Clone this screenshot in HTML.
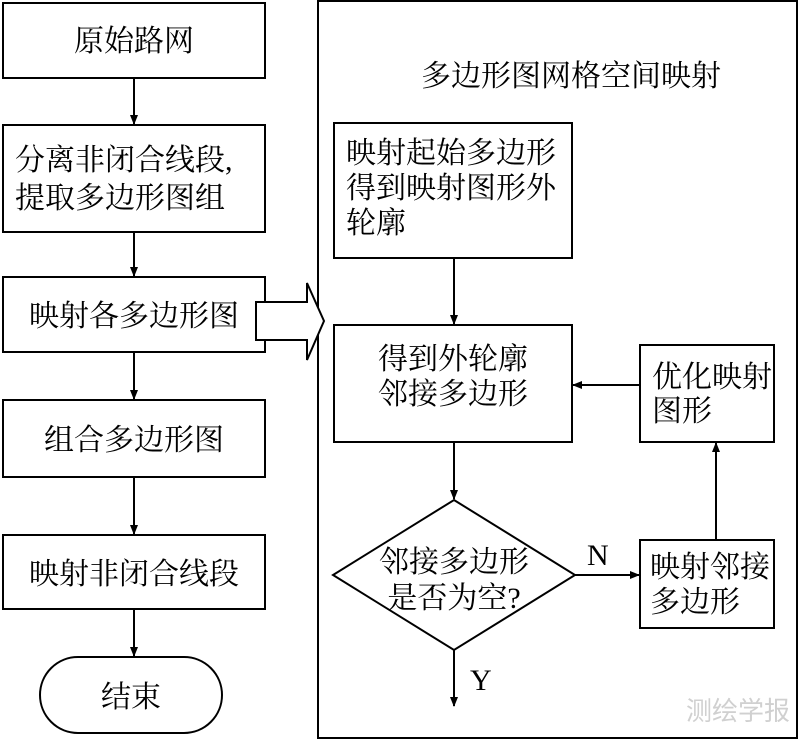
<!DOCTYPE html>
<html><head><meta charset="utf-8"><style>
body{margin:0;background:#fff}
svg text{font-family:"Liberation Serif","Noto Serif CJK SC",serif;font-size:30px;fill:#000}
</style></head><body>
<svg width="800" height="741" viewBox="0 0 800 741" xmlns="http://www.w3.org/2000/svg">
<defs><marker id="a" markerWidth="10" markerHeight="10" refX="9" refY="5" orient="auto" markerUnits="userSpaceOnUse"><path d="M0,1 L10,5 L0,9 z" fill="#000"/></marker></defs>
<g fill="none" stroke="#000" stroke-width="2">
<rect x="3" y="3" width="262" height="75"/>
<rect x="3" y="125" width="262" height="107"/>
<rect x="3" y="277" width="262" height="75"/>
<rect x="3" y="400" width="262" height="77"/>
<rect x="3" y="535" width="262" height="74"/>
<rect x="40" y="657" width="182" height="76" rx="38"/>
<rect x="318" y="1" width="479" height="737"/>
<rect x="334" y="123" width="238" height="135"/>
<rect x="334" y="325" width="238" height="117"/>
<rect x="640" y="345" width="134" height="97"/>
<rect x="640" y="540" width="134" height="88"/>
<path d="M454,500 L575,575 L454,650 L333,575 Z"/>
<path d="M256,302 L307,302 L307,283 L324,321 L307,360 L307,340 L256,340 Z" fill="#fff"/>
<g marker-end="url(#a)">
<line x1="134" y1="78" x2="134" y2="124"/>
<line x1="134" y1="232" x2="134" y2="276"/>
<line x1="134" y1="352" x2="134" y2="399"/>
<line x1="134" y1="477" x2="134" y2="534"/>
<line x1="134" y1="609" x2="134" y2="656"/>
<line x1="454" y1="258" x2="454" y2="324"/>
<line x1="454" y1="442" x2="454" y2="499"/>
<line x1="454" y1="650" x2="454" y2="706"/>
<line x1="575" y1="575" x2="639" y2="575"/>
<line x1="716" y1="540" x2="716" y2="443"/>
<line x1="640" y1="385" x2="573" y2="385"/>
</g></g>
<text x="134" y="51" text-anchor="middle">原始路网</text>
<text x="15" y="170">分离非闭合线段,</text>
<text x="15" y="208">提取多边形图组</text>
<text x="134" y="326" text-anchor="middle">映射各多边形图</text>
<text x="134" y="450" text-anchor="middle">组合多边形图</text>
<text x="134" y="584" text-anchor="middle">映射非闭合线段</text>
<text x="131" y="707" text-anchor="middle">结束</text>
<text x="571" y="86" text-anchor="middle">多边形图网格空间映射</text>
<text x="346" y="163">映射起始多边形</text>
<text x="346" y="198">得到映射图形外</text>
<text x="346" y="233">轮廓</text>
<text x="453" y="369" text-anchor="middle">得到外轮廓</text>
<text x="453" y="404" text-anchor="middle">邻接多边形</text>
<text x="652" y="387">优化映射</text>
<text x="652" y="421">图形</text>
<text x="454" y="572" text-anchor="middle">邻接多边形</text>
<text x="454" y="608" text-anchor="middle">是否为空?</text>
<text x="650" y="577">映射邻接</text>
<text x="650" y="612">多边形</text>
<text x="587" y="565">N</text>
<text x="470" y="690">Y</text>
<text x="738" y="720" text-anchor="middle" style="font-family:'Noto Sans CJK SC',sans-serif;font-size:26px;fill:#d0d0d0">测绘学报</text>
</svg>
</body></html>
